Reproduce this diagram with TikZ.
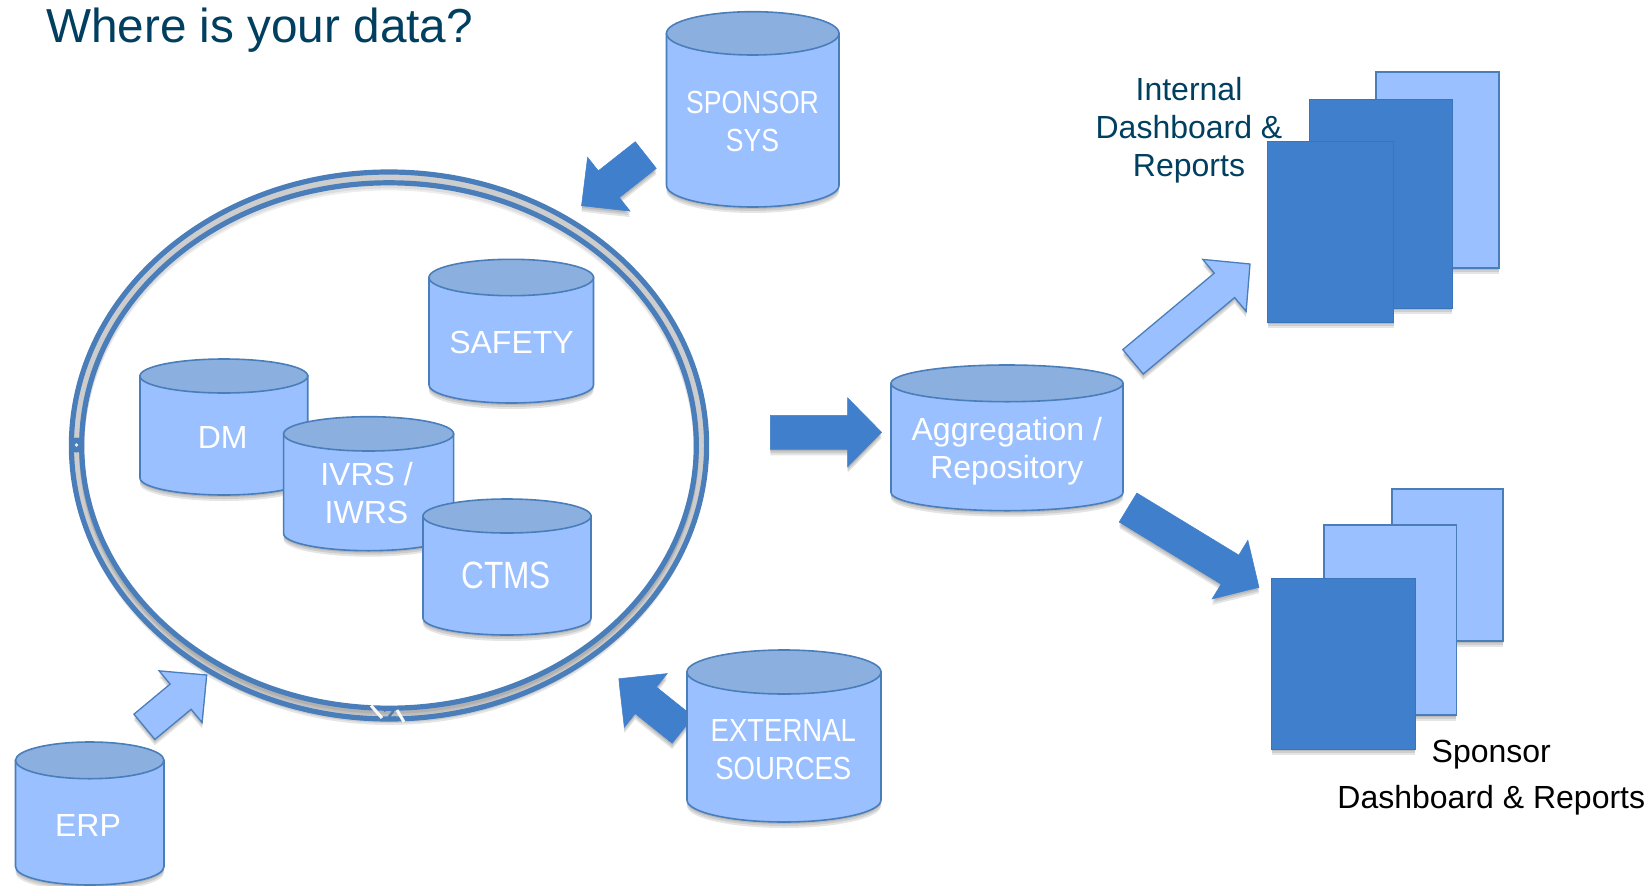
\documentclass[tikz,border=0pt]{standalone}
\usepackage{fontspec}
\setmainfont{Liberation Sans}
\usetikzlibrary{calc}
\definecolor{dblight}{HTML}{9AC0FF}
\definecolor{dblid}{HTML}{8BB0E0}
\definecolor{dbedge}{HTML}{4A7EBB}
\definecolor{dbdark}{HTML}{3F7FCC}
\definecolor{titleblue}{HTML}{003F5F}
\definecolor{ringgray}{HTML}{CDCDCD}
\tikzset{
	softshadow/.style={
		preaction={draw=none,fill=black,fill opacity=.1,transform canvas={yshift=-2pt}},
		preaction={draw=none,fill=black,fill opacity=.1,transform canvas={yshift=-4pt}},
		preaction={draw=none,fill=black,fill opacity=.1,transform canvas={yshift=-6pt}}},
	dbbody/.style={draw=dbedge,line width=1.6pt,fill=dblight},
	dblidshape/.style={draw=dbedge,line width=1.6pt,fill=dblid},
	dbtext/.style={text=white,font=\fontsize{32}{38}\selectfont,align=center,anchor=base,inner sep=0pt},
	pagelight/.style={draw=dbedge,line width=1.6pt,fill=dblight,softshadow},
	pagedark/.style={draw=dbdark!92!black,line width=.8pt,fill=dbdark,softshadow},
	arrowlight/.style={draw=dbedge,line width=1.3pt,fill=dblight,softshadow},
	arrowdark/.style={draw=dbdark,line width=.5pt,fill=dbdark,softshadow},
	caption/.style={font=\fontsize{32}{38}\selectfont,align=center,anchor=base,inner sep=0pt},
	ringedge/.style={draw=dbedge,line width=5.2pt}
}
% left, right, top, bottom of lid, bottom
\newcommand{\dbcyl}[5]{
	\pgfmathsetmacro{\rx}{(#2-#1)/2}
	\pgfmathsetmacro{\ry}{(#4-#3)/2}
	\draw[dbbody,softshadow] (#1,#3+\ry) -- (#1,#5-\ry) arc (180:360:\rx pt and \ry pt) -- (#2,#3+\ry) -- cycle;
	\draw[dblidshape] ({(#1+#2)/2},#3+\ry) ellipse (\rx pt and \ry pt);
}
% style, tail, tip, half shaft, half head, head length
\newcommand{\blockarrow}[6]{
	\coordinate (neck) at ($(#3)!#6pt!(#2)$);
	\draw[#1] ($(#2)!#4pt!90:(#3)$) -- ($(neck)!#4pt!90:(#3)$) -- ($(neck)!#5pt!90:(#3)$) -- (#3)
		-- ($(neck)!#5pt!-90:(#3)$) -- ($(neck)!#4pt!-90:(#3)$) -- ($(#2)!#4pt!-90:(#3)$) -- cycle;
}
\begin{document}
\begin{tikzpicture}[x=1pt,y=-1pt]
	\useasboundingbox (0,0) rectangle (1649,886);
	\node[text=titleblue,font=\fontsize{47.7}{50}\selectfont,anchor=base west,inner sep=0pt] (title) at (46,42.7) {Where is your data?};

	% ring
	\draw[ringedge,fill=ringgray,softshadow] (389,445.5) ellipse (317.6pt and 273.5pt);
	\fill[white] (389,445.5) ellipse (307.3pt and 262.7pt);
	\foreach \s in {3,5} {
		\draw[black,opacity=.07,line width=5.2pt,yshift=-\s pt] (389,445.5) ellipse (307.3pt and 262.7pt);
	}
	\draw[ringedge] (389,445.5) ellipse (307.3pt and 262.7pt);
	\fill[dbedge] (76.5,445) circle (7.5pt);
	\fill[white!85!dbedge] (76.5,445) circle (1.8pt);
	\draw[white!85!ringgray,line width=3pt] (371,705.5) -- (382,718) (397,710) -- (404,722);
	\draw[dbedge,line width=2.4pt] (384,711) .. controls (390,706) and (396,710) .. (391,714) .. controls (387,717) and (391,720) .. (396,717);

	% arrows
	\coordinate (sponsorout) at (645.8,155);
	\coordinate (ringin) at (581.5,205.7);
	\coordinate (erpout) at (144.4,726.8);
	\coordinate (ringerp) at (206.7,675);
	\coordinate (extout) at (682.8,729.9);
	\coordinate (ringext) at (618.8,678.7);
	\coordinate (ringout) at (770.4,432.3);
	\coordinate (aggin) at (881.6,432.3);
	\coordinate (aggup) at (1133,361.8);
	\coordinate (internalin) at (1250,264);
	\coordinate (aggdown) at (1128,507.5);
	\coordinate (sponsorin) at (1259,587.3);
	\blockarrow{arrowdark}{sponsorout}{ringin}{17}{34.3}{34.8}
	\blockarrow{arrowlight}{erpout}{ringerp}{16.4}{33.6}{33.9}
	\blockarrow{arrowdark}{extout}{ringext}{17}{34.3}{34.6}
	\blockarrow{arrowdark}{ringout}{aggin}{17}{34.5}{34}
	\blockarrow{arrowlight}{aggup}{internalin}{15.9}{33.8}{33.3}
	\blockarrow{arrowdark}{aggdown}{sponsorin}{17}{34.4}{34}

	% sources
	\dbcyl{666.5}{839}{11.7}{55}{207}
	\node[dbtext,xscale=.83] (sponsorsys) at (752.5,151.7) {SPONSOR\\SYS};
	\dbcyl{429}{593.5}{259.3}{295.7}{403}
	\node[dbtext] (safety) at (511.5,353.3) {SAFETY};
	\dbcyl{140}{307.7}{359}{393}{495}
	\node[dbtext] (dm) at (222.7,448.3) {DM};
	\dbcyl{283.6}{453.6}{416.7}{451}{550.7}
	\node[dbtext] (ivrs) at (366.5,523.3) {IVRS /\\IWRS};
	\dbcyl{423}{591}{499}{533}{635}
	\node[dbtext,xscale=.83,font=\fontsize{38}{38}\selectfont] (ctms) at (506,588.3) {CTMS};
	\dbcyl{15.5}{164}{742}{778.7}{885}
	\node[dbtext] (erp) at (88,836.7) {ERP};
	\dbcyl{687}{881}{650}{694}{822}
	\node[dbtext,xscale=.86] (external) at (783.3,779) {EXTERNAL\\SOURCES};
	\dbcyl{891}{1123}{365}{401.7}{510.7}
	\node[dbtext] (aggregation) at (1006.8,478.3) {Aggregation /\\Repository};

	% reports
	\draw[pagelight] (1375.8,71.7) rectangle (1498.7,267.7);
	\draw[pagedark] (1309.4,99.3) rectangle (1452.3,308.3);
	\draw[pagedark] (1267.6,141) rectangle (1393.5,322.3);
	\node[caption,text=titleblue] (internal) at (1189,176) {Internal\\Dashboard \&\\Reports};

	\draw[pagelight] (1392,489) rectangle (1502.7,641);
	\draw[pagelight] (1324,525) rectangle (1456.4,715);
	\draw[pagedark] (1271.7,578.3) rectangle (1415,749);
	\node[caption,font=\fontsize{32}{45.6}\selectfont] (sponsordash) at (1491.3,808.3) {Sponsor\\Dashboard \& Reports};
\end{tikzpicture}
\end{document}
